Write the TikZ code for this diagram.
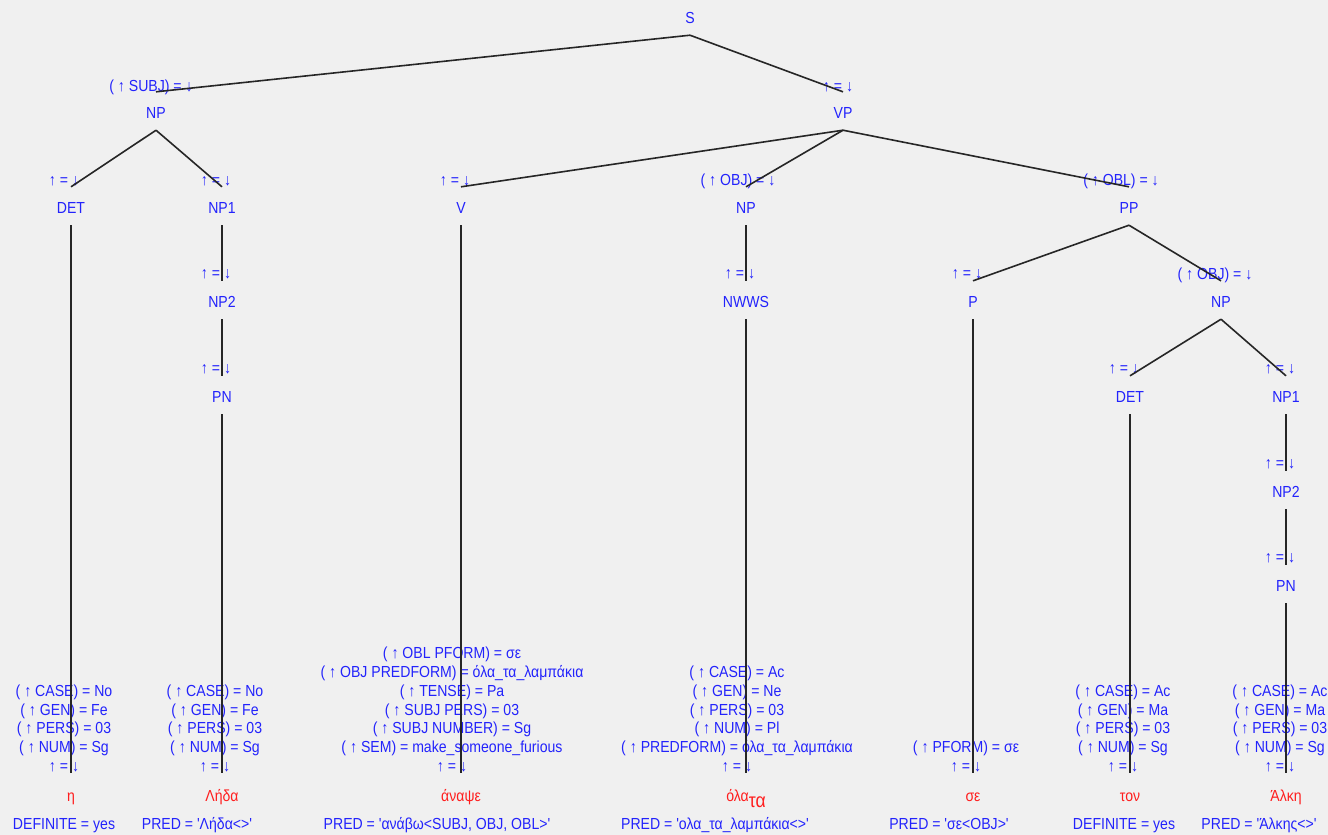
\documentclass[tikz,border=0pt]{standalone}
\usepackage{fontspec}
\setmainfont{Liberation Sans}[FakeStretch=0.88,Ligatures=TeXOff]
\usetikzlibrary{positioning}
\definecolor{bggray}{RGB}{240,240,240}
\definecolor{fblue}{RGB}{35,35,252}
\definecolor{wred}{RGB}{255,30,30}
\tikzset{cat/.style={fblue,inner sep=0pt,text height=20pt,text depth=8.4pt,anchor=base},
  ann/.style={fblue,inner sep=0pt,anchor=base},
  feats/.style={fblue,inner sep=0pt,align=center,anchor=base},
  word/.style={wred,inner sep=0pt,text height=21pt,text depth=0pt,anchor=base},
  pred/.style={fblue,inner sep=0pt,anchor=base},
  branch/.style={draw=black!85,line width=1.2pt},
}

\begin{document}
\begin{tikzpicture}[x=0.75pt,y=-0.75pt,font=\fontsize{12pt}{14.1pt}\selectfont]
	\useasboundingbox (0,0) rectangle (1328,835);
	\fill[bggray] (0,0) rectangle (1328,835);
	% tree
	\node[cat] (S) at (690,23.75) {S};
	\node[ann] (NPs-a) at (151,91.75) {( ↑ SUBJ) = ↓};
	\node[cat] (NPs) at (156,118.75) {NP};
	\node[ann] (VP-a) at (838,91.75) {↑ = ↓};
	\node[cat] (VP) at (843,118.75) {VP};
	\node[ann] (DETl-a) at (64,185.75) {↑ = ↓};
	\node[cat] (DETl) at (71,213.75) {DET};
	\node[ann] (NP1l-a) at (216,185.75) {↑ = ↓};
	\node[cat] (NP1l) at (222,213.75) {NP1};
	\node[ann] (NP2l-a) at (216,278.75) {↑ = ↓};
	\node[cat] (NP2l) at (222,307.75) {NP2};
	\node[ann] (PNl-a) at (216,373.75) {↑ = ↓};
	\node[cat] (PNl) at (222,402.75) {PN};
	\node[ann] (V-a) at (455,185.75) {↑ = ↓};
	\node[cat] (V) at (461,213.75) {V};
	\node[ann] (NPo-a) at (738,185.75) {( ↑ OBJ) = ↓};
	\node[cat] (NPo) at (746,213.75) {NP};
	\node[ann] (NWWS-a) at (740,278.75) {↑ = ↓};
	\node[cat] (NWWS) at (746,307.75) {NWWS};
	\node[ann] (PP-a) at (1121,185.75) {( ↑ OBL) = ↓};
	\node[cat] (PP) at (1129,213.75) {PP};
	\node[ann] (P-a) at (967,278.75) {↑ = ↓};
	\node[cat] (P) at (973,307.75) {P};
	\node[ann] (NPb-a) at (1215,279.75) {( ↑ OBJ) = ↓};
	\node[cat] (NPb) at (1221,307.75) {NP};
	\node[ann] (DETr-a) at (1124,373.75) {↑ = ↓};
	\node[cat] (DETr) at (1130,402.75) {DET};
	\node[ann] (NP1r-a) at (1280,373.75) {↑ = ↓};
	\node[cat] (NP1r) at (1286,402.75) {NP1};
	\node[ann] (NP2r-a) at (1280,468.75) {↑ = ↓};
	\node[cat] (NP2r) at (1286,497.75) {NP2};
	\node[ann] (PNr-a) at (1280,562.75) {↑ = ↓};
	\node[cat] (PNr) at (1286,591.75) {PN};
	% leaves
	\node[feats] (DETl-f) at (64,771.5) {( ↑ CASE) = No\\( ↑ GEN) = Fe\\( ↑ PERS) = 03\\( ↑ NUM) = Sg\\↑ = ↓};
	\node[word] (DETl-w) at (71,801) {η};
	\node[pred] (DETl-p) at (64,829) {DEFINITE = yes};
	\node[feats] (PNl-f) at (215,771.5) {( ↑ CASE) = No\\( ↑ GEN) = Fe\\( ↑ PERS) = 03\\( ↑ NUM) = Sg\\↑ = ↓};
	\node[word] (PNl-w) at (222,801) {Λήδα};
	\node[pred] (PNl-p) at (197,829) {PRED = 'Λήδα<>'};
	\node[feats] (V-f) at (452,771.5) {( ↑ OBL PFORM) = σε\\( ↑ OBJ PREDFORM) = όλα\_τα\_λαμπάκια\\( ↑ TENSE) = Pa\\( ↑ SUBJ PERS) = 03\\( ↑ SUBJ NUMBER) = Sg\\( ↑ SEM) = make\_someone\_furious\\↑ = ↓};
	\node[word] (V-w) at (461,801) {άναψε};
	\node[pred] (V-p) at (437,829) {PRED = 'ανάβω<SUBJ, OBJ, OBL>'};
	\node[feats] (NWWS-f) at (737,771.5) {( ↑ CASE) = Ac\\( ↑ GEN) = Ne\\( ↑ PERS) = 03\\( ↑ NUM) = Pl\\( ↑ PREDFORM) = όλα\_τα\_λαμπάκια\\↑ = ↓};
	\node[word] (NWWS-w) at (746,801) {όλα\raisebox{-5pt}{\fontsize{15pt}{15pt}\selectfont τα}};
	\node[pred] (NWWS-p) at (715,829) {PRED = 'ολα\_τα\_λαμπάκια<>'};
	\node[feats] (P-f) at (966,771.5) {( ↑ PFORM) = σε\\↑ = ↓};
	\node[word] (P-w) at (973,801) {σε};
	\node[pred] (P-p) at (949,829) {PRED = 'σε<OBJ>'};
	\node[feats] (DETr-f) at (1123,771.5) {( ↑ CASE) = Ac\\( ↑ GEN) = Ma\\( ↑ PERS) = 03\\( ↑ NUM) = Sg\\↑ = ↓};
	\node[word] (DETr-w) at (1130,801) {τον};
	\node[pred] (DETr-p) at (1124,829) {DEFINITE = yes};
	\node[feats] (PNr-f) at (1280,771.5) {( ↑ CASE) = Ac\\( ↑ GEN) = Ma\\( ↑ PERS) = 03\\( ↑ NUM) = Sg\\↑ = ↓};
	\node[word] (PNr-w) at (1286,801) {Άλκη};
	\node[pred] (PNr-p) at (1259,829) {PRED = 'Άλκης<>'};
	
	\path[branch]
	(S.south) edge (NPs.north)
	(S.south) edge (VP.north)
	(NPs.south) edge (DETl.north)
	(NPs.south) edge (NP1l.north)
	(NP1l.south) edge (NP2l.north)
	(NP2l.south) edge (PNl.north)
	(VP.south) edge (V.north)
	(VP.south) edge (NPo.north)
	(VP.south) edge (PP.north)
	(NPo.south) edge (NWWS.north)
	(PP.south) edge (P.north)
	(PP.south) edge (NPb.north)
	(NPb.south) edge (DETr.north)
	(NPb.south) edge (NP1r.north)
	(NP1r.south) edge (NP2r.north)
	(NP2r.south) edge (PNr.north)
	(DETl.south) edge (DETl-w.north)
	(PNl.south) edge (PNl-w.north)
	(V.south) edge (V-w.north)
	(NWWS.south) edge (NWWS-w.north)
	(P.south) edge (P-w.north)
	(DETr.south) edge (DETr-w.north)
	(PNr.south) edge (PNr-w.north);
\end{tikzpicture}
\end{document}
